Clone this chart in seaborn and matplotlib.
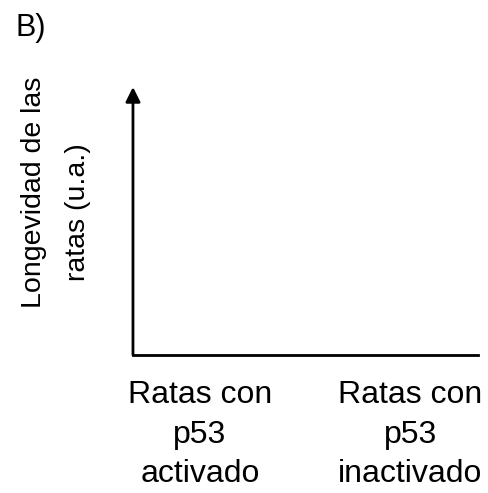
import matplotlib
matplotlib.use('Agg')
import matplotlib.pyplot as plt
import seaborn as sns
import pandas as pd

# categories on the x axis (empty chart: no values shown)
groups = ['Ratas con\np53\nactivado', 'Ratas con\np53\ninactivado']
longevity = [0, 0]
ylabel_lines = ['Longevidad de las', 'ratas (u.a.)']
panel = 'B)'

sns.set_theme(style='white')
plt.rcParams['font.family'] = ['Liberation Sans', 'DejaVu Sans']
plt.rcParams['text.color'] = 'black'
plt.rcParams['xtick.color'] = 'black'
plt.rcParams['axes.labelcolor'] = 'black'

df = pd.DataFrame({'grupo': groups, 'longevidad': longevity})

fig = plt.figure(figsize=(4.88, 4.93), dpi=100)
ax = fig.add_axes([0.2725, 0.28, 0.7075, 0.5435])

sns.barplot(data=df, x='grupo', y='longevidad', ax=ax, color='white')

ax.set_xlim(-0.319, 1.323)
ax.set_ylim(0, 1)
ax.set_yticks([])
ax.set_xlabel('')
ax.set_ylabel('')
ax.tick_params(axis='x', length=0, pad=18, labelsize=23, colors='black')
for t in ax.get_xticklabels():
    t.set_linespacing(1.42)

for s in ['top', 'right', 'left']:
    ax.spines[s].set_visible(False)
ax.spines['bottom'].set_color('black')
ax.spines['bottom'].set_linewidth(2)

# y axis drawn as an arrow
ax.annotate('', xy=(0, 1.0), xytext=(0, 0), xycoords='axes fraction',
            arrowprops=dict(arrowstyle='-|>', color='black', lw=2,
                            mutation_scale=22, shrinkA=0, shrinkB=0))

# y label, two lines placed as in the original
fig.text(34 / 488, 1 - 192 / 493, ylabel_lines[0], rotation=90,
         fontsize=20.5, ha='center', va='center')
fig.text(78 / 488, 1 - 212 / 493, ylabel_lines[1], rotation=90,
         fontsize=20.5, ha='center', va='center')

fig.text(15 / 488, 1 - 13 / 493, panel, fontsize=22, ha='left', va='top')

fig.savefig('out.png', dpi=100, facecolor='white')
